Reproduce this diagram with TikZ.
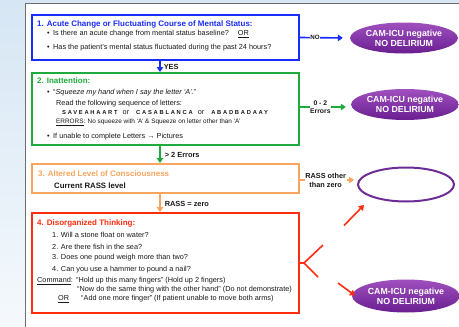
\documentclass[tikz,border=0pt]{standalone}
\usepackage{fontspec}
\setmainfont{Liberation Sans}
\newfontfamily\spacedfont[LetterSpace=30]{Liberation Sans}
\usetikzlibrary{arrows.meta,shapes.geometric}

\definecolor{stepblue}{RGB}{25,45,250}
\definecolor{stepgreen}{RGB}{30,170,60}
\definecolor{steporange}{RGB}{249,165,95}
\definecolor{stepred}{RGB}{255,45,15}
\definecolor{camlight}{RGB}{160,80,190}
\definecolor{camdark}{RGB}{105,30,145}
\definecolor{camline}{RGB}{110,45,150}
\definecolor{bgblue}{RGB}{214,230,244}
\definecolor{bodytext}{RGB}{25,25,25}
\definecolor{frameline}{RGB}{110,110,110}

\begin{document}
\begin{tikzpicture}[x=1pt,y=-1pt,
  stagebox/.style={draw, line width=2pt, minimum width=267pt, inner sep=0pt},
  title/.style={anchor=west, font=\bfseries\fontsize{8}{9}\selectfont, inner sep=0pt},
  body/.style={anchor=west, font=\fontsize{7.3}{8.5}\selectfont, inner sep=0pt, text=bodytext},
  lbl/.style={font=\bfseries\fontsize{7.4}{8.5}\selectfont, inner sep=0.6pt, text=bodytext},
  result/.style={ellipse, minimum width=97pt, minimum height=31pt, inner sep=0pt,
    top color=camlight, bottom color=camdark, text=white, align=center,
    font=\bfseries\fontsize{8.8}{10}\selectfont},
  flow/.style={line width=1.6pt, -{Triangle[length=5pt,width=6.5pt]}}]

% page background and frame
\useasboundingbox (0,0) rectangle (459,327);
\fill[white] (0,0) rectangle (459,327);
\shade[top color=bgblue, bottom color=bgblue!25] (0,0) rectangle (25,327);
\fill[bgblue] (25,0) rectangle (459,3);
\draw[frameline, line width=1.2pt] (25.5,327) -- (25.5,3.5) -- (459,3.5);

% the four assessment stages
\node[stagebox, draw=stepblue, minimum height=45pt] (b1) at (165.5,37.5) {};
\node[stagebox, draw=stepgreen, minimum height=72pt] (b2) at (165.5,109) {};
\node[stagebox, draw=steporange, minimum height=29pt] (b3) at (165.5,178.5) {};
\node[stagebox, draw=stepred, minimum height=100pt] (b4) at (165.5,263) {};

% stage 1
\node[title, text=stepblue] (t1) at (37,24) {1. Acute Change or Fluctuating Course of Mental Status:};
\node[body] (t1a) at (47,34) {\makebox[6pt][l]{\textbullet}Is there an acute change from mental status baseline?\hspace{9pt}\underline{OR}};
\node[body] (t1b) at (47,48) {\makebox[6pt][l]{\textbullet}Has the patient’s mental status fluctuated during the past 24 hours?};

% stage 2
\node[title, text=stepgreen] (t2) at (37,81) {2. Inattention:};
\node[body] (t2a) at (47,93) {\makebox[6pt][l]{\textbullet}“\textit{Squeeze my hand when I say the letter ‘A’.}”};
\node[body] (t2b) at (56,104) {Read the following sequence of letters:};
\node[body] (t2c) at (62,112.5) {{\spacedfont\bfseries\fontsize{5.8}{6.5}\selectfont SAVEAHAART}\hspace{5pt}or\hspace{7pt}{\spacedfont\bfseries\fontsize{5.8}{6.5}\selectfont CASABLANCA}\hspace{5pt}or\hspace{7pt}{\spacedfont\bfseries\fontsize{5.8}{6.5}\selectfont ABADBADAAY}};
\node[body, font=\fontsize{6.4}{7.5}\selectfont] (t2d) at (56,122) {\underline{ERRORS}: No squeeze with ‘A’ \& Squeeze on letter other than ‘A’};
\node[body] (t2e) at (47,137) {\makebox[6pt][l]{\textbullet}If unable to complete Letters {\bfseries →} Pictures};

% stage 3
\node[title, text=steporange] (t3) at (38,174) {3. Altered Level of Consciousness};
\node[body, font=\bfseries\fontsize{7.8}{9}\selectfont] (t3a) at (54,186) {Current RASS level};

% stage 4
\node[title, text=stepred] (t4) at (37,223) {4. Disorganized Thinking:};
\node[body] (q1) at (52,235) {1. Will a stone float on water?};
\node[body] (q2) at (52,246.5) {2. Are there fish in the sea?};
\node[body] (q3) at (52,258) {3. Does one pound weigh more than two?};
\node[body] (q4) at (52,269.5) {4. Can you use a hammer to pound a nail?};
\node[body] (cmd) at (37,281) {\underline{Command}:};
\node[body] (cmd1) at (76,281) {“Hold up this many fingers” (Hold up 2 fingers)};
\node[body] (cmd2) at (77,290) {“Now do the same thing with the other hand” (Do not demonstrate)};
\node[body] (cmdor) at (58,299) {\underline{OR}};
\node[body] (cmd3) at (81,299) {“Add one more finger” (If patient unable to move both arms)};

% outcomes
\node[result] (e1) at (404,38) {CAM-ICU negative\\NO DELIRIUM};
\node[result] (e2) at (405,104.5) {CAM-ICU negative\\NO DELIRIUM};
\node[ellipse, draw=camline, line width=2pt, fill=white, minimum width=96pt, minimum height=34pt] (e3) at (406,184.5) {};
\node[result, minimum height=33pt] (e4) at (406,296) {CAM-ICU negative\\NO DELIRIUM};

% downward flow between stages
\draw[flow, stepblue] ([xshift=-5.5pt]b1.south) -- ([xshift=-5.5pt]b2.north);
\node[lbl, anchor=west] (yes) at (163,67) {YES};
\draw[flow, stepgreen] ([xshift=-5.5pt]b2.south) -- ([xshift=-5.5pt]b3.north);
\node[lbl, anchor=west] (gt2) at (164,154.5) {> 2 Errors};
\draw[flow, steporange] ([xshift=-5.5pt]b3.south) -- ([xshift=-5.5pt]b4.north);
\node[lbl, anchor=west] (rz) at (164,203.5) {RASS = zero};

% sideways exits
\draw[flow, stepblue, shorten >=7pt] (b1.east) -- (e1.west)
  node[lbl, pos=0.3, fill=white, font=\bfseries\fontsize{6.2}{7}\selectfont] (no) {NO};
\draw[flow, stepgreen, shorten >=5pt] ([yshift=2pt]b2.east) -- ([yshift=2pt]b2.east -| e2.west)
  node[lbl, pos=0.4, fill=white, align=center, font=\bfseries\fontsize{6.8}{7.4}\selectfont] (err02) {0 - 2\\Errors};
\draw[flow, steporange, shorten >=3pt] ([yshift=-1.5pt]b3.east) -- ([yshift=-1.5pt]b3.east -| e3.west)
  node[lbl, pos=0.45, fill=white, align=center, font=\bfseries\fontsize{7.3}{9}\selectfont] (rassother) {RASS other\\than zero};

% stage 4 splits towards two outcomes
\coordinate (fork) at (304,263);
\coordinate (forkup) at (323,245);
\coordinate (forkdown) at (318,277);
\draw[stepred, line width=1.6pt] (b4.east) -- (fork) -- (forkup) (fork) -- (forkdown);
\coordinate (upstart) at (344,225.5);
\coordinate (upend) at (364,205);
\coordinate (downstart) at (338,283);
\coordinate (downend) at (355,295.5);
\draw[flow, stepred] (upstart) -- (upend);
\draw[flow, stepred] (downstart) -- (downend);

\end{tikzpicture}
\end{document}
